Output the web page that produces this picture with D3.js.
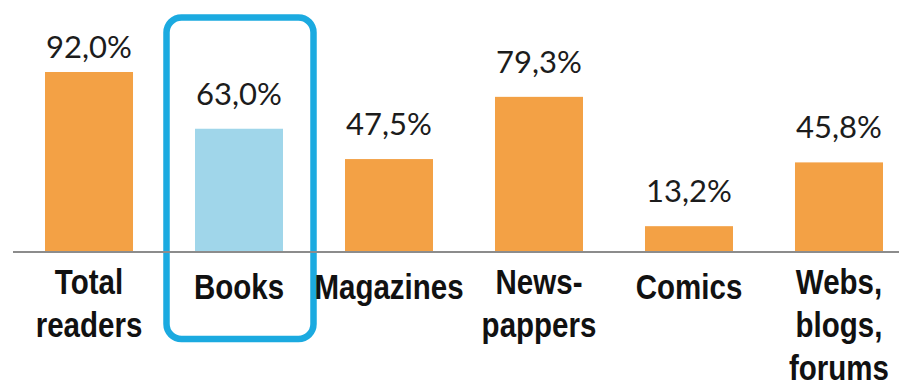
<!DOCTYPE html>
<html>
<head>
<meta charset="utf-8">
<script src="https://cdn.jsdelivr.net/npm/d3@7"></script>
<style>
  html, body { margin: 0; padding: 0; background: #ffffff; }
  svg { display: block; }
</style>
</head>
<body>
<svg id="chart" width="899" height="389"></svg>
<script>
// Share of readers by type of reading material (%)
const categories = ["Total readers", "Books", "Magazines", "News-pappers", "Comics", "Webs, blogs, forums"];
const categoryLines = [["Total", "readers"], ["Books"], ["Magazines"], ["News-", "pappers"], ["Comics"], ["Webs,", "blogs,", "forums"]];
const values = [92.0, 63.0, 47.5, 79.3, 13.2, 45.8];
const highlighted = ["Books"];

const svg = d3.select("#chart");

const baseline = 252;
const x = d3.scaleBand()
  .domain(categories)
  .range([14, 914])
  .paddingInner(0.4133)
  .paddingOuter(0.2067);

const y = d3.scaleLinear()
  .domain([0, 100])
  .range([baseline, baseline - 195.65]);

const fmt = v => d3.format(".1f")(v).replace(".", ",") + "%";

// Highlight frame around the selected category
highlighted.forEach(cat => {
  const cx = x(cat) + x.bandwidth() / 2;
  svg.append("rect")
    .attr("x", cx - 72.5)
    .attr("y", 17.5)
    .attr("width", 147)
    .attr("height", 321.5)
    .attr("rx", 15)
    .attr("ry", 15)
    .attr("fill", "none")
    .attr("stroke", "#1BAAE0")
    .attr("stroke-width", 6.5);
});

// Bars
svg.append("g").selectAll("rect")
  .data(categories)
  .join("rect")
  .attr("x", d => x(d))
  .attr("y", (d, i) => y(values[i]))
  .attr("width", x.bandwidth())
  .attr("height", (d, i) => baseline - y(values[i]))
  .attr("fill", d => highlighted.includes(d) ? "#A0D6EA" : "#F3A145");

// Baseline axis
const axis = d3.axisBottom(x).tickSize(0).tickFormat("");
const axisG = svg.append("g")
  .attr("transform", `translate(0,${baseline})`)
  .call(axis);
axisG.select(".domain")
  .attr("d", "M13,0H899")
  .attr("stroke", "#8c8c8c")
  .attr("stroke-width", 2);

// Value labels above bars, kept below the top of the plot
svg.append("g").selectAll("text")
  .data(categories)
  .join("text")
  .attr("x", d => x(d) + x.bandwidth() / 2)
  .attr("y", (d, i) => Math.max(y(values[i]) - 24, 58))
  .attr("text-anchor", "middle")
  .attr("font-family", "Lato, 'Open Sans', sans-serif")
  .attr("font-size", 31)
  .attr("fill", "#1c1c1c")
  .text((d, i) => fmt(values[i]));

// Category labels below the axis (condensed bold)
const catG = svg.append("g").selectAll("text")
  .data(categories)
  .join("text")
  .attr("transform", (d, i) => {
    const cx = x(d) + x.bandwidth() / 2;
    const by = categoryLines[i].length === 1 ? 299 : 294;
    return `translate(${cx},${by}) scale(0.82,1)`;
  })
  .attr("text-anchor", "middle")
  .attr("font-family", "'Liberation Sans', Arial, sans-serif")
  .attr("font-weight", "bold")
  .attr("font-size", 36)
  .attr("fill", "#111111");

catG.each(function(d, i) {
  const t = d3.select(this);
  categoryLines[i].forEach((line, j) => {
    t.append("tspan")
      .attr("x", 0)
      .attr("dy", j === 0 ? 0 : 43)
      .text(line);
  });
});
</script>
</body>
</html>
